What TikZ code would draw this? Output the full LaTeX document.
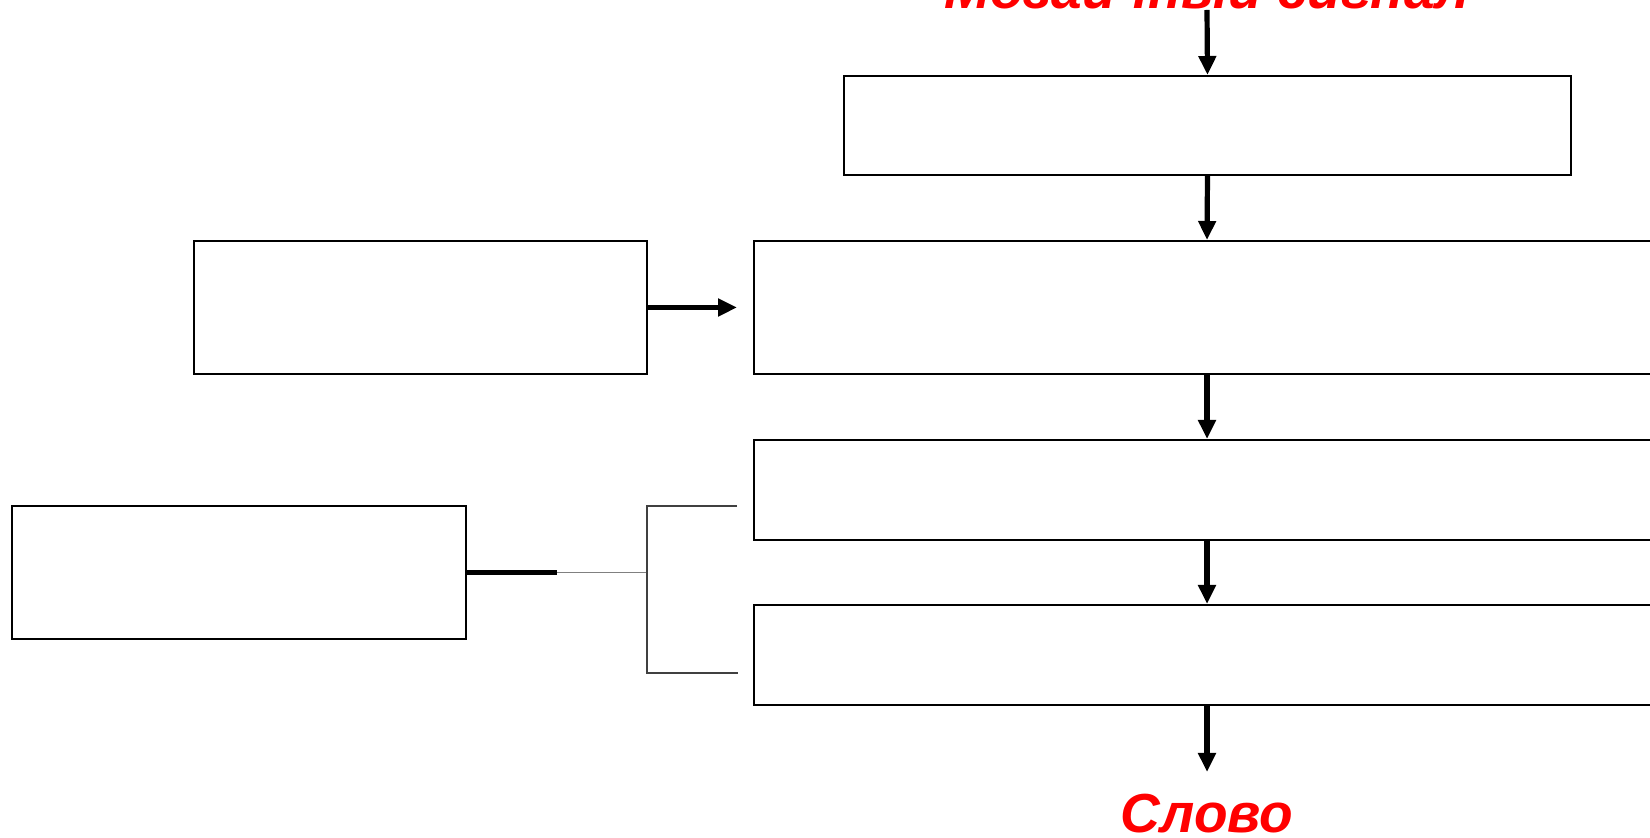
\documentclass[tikz,border=0pt]{standalone}
\usepackage{fontspec}
\setmainfont{Liberation Sans}
\usetikzlibrary{arrows.meta}

\begin{document}
\begin{tikzpicture}[x=0.5pt,y=-0.5pt,
  box/.style={draw,line width=1pt,inner sep=0pt},
  arrow/.style={line width=2.6pt,-{Triangle[length=9.5pt,width=8.5pt]}},
  title/.style={text=red,font=\fontsize{27.5}{30}\selectfont\bfseries\itshape,inner sep=0pt}]
  \useasboundingbox (0,0) rectangle (1650,838);
  % Texts
  \node[title,anchor=base] (signal) at (1207,9) {Мозаичный сигнал};
  \node[title,anchor=base] (word) at (1207,833) {Слово};
  \coordinate (signalend) at (1207,10);
  \coordinate (wordtop) at (1207,772);
  % Boxes of the chain
  \node[box,minimum width=727pt/2,minimum height=99pt/2] (stage1) at (1207.5,125.5) {};
  \node[box,minimum width=906pt/2,minimum height=133pt/2] (stage2) at (1207,307.5) {};
  \node[box,minimum width=906pt/2,minimum height=100pt/2] (stage3) at (1207,490) {};
  \node[box,minimum width=906pt/2,minimum height=100pt/2] (stage4) at (1207,655) {};
  % Boxes on the left
  \node[box,minimum width=453pt/2,minimum height=133pt/2] (memory) at (420.5,307.5) {};
  \node[box,minimum width=454pt/2,minimum height=133pt/2] (context) at (239,572.5) {};
  % Arrows down
  \draw[arrow] (signalend) -- (stage1.north);
  \draw[arrow] (stage1.south) -- (stage2.north);
  \draw[arrow] (stage2.south) -- (stage3.north);
  \draw[arrow] (stage3.south) -- (stage4.north);
  \draw[arrow] (stage4.south) -- (wordtop);
  \draw[arrow,shorten >=8pt] (memory.east) -- (memory.east -| stage2.west);
  % Bracket
  \coordinate (brtop) at (647,506);
  \coordinate (brbot) at (647,673);
  \coordinate (brmid) at (647,572.5);
  \draw[line width=2.2pt] (context.east) -- ++(90,0) coordinate (thickend);
  \draw[gray,line width=0.8pt] (thickend) -- (brmid);
  \draw[black!75,line width=0.8pt] (brtop -| stage3.west) ++(-16,0) -- (brtop) -- (brbot) -- ++(91,0);
\end{tikzpicture}
\end{document}
